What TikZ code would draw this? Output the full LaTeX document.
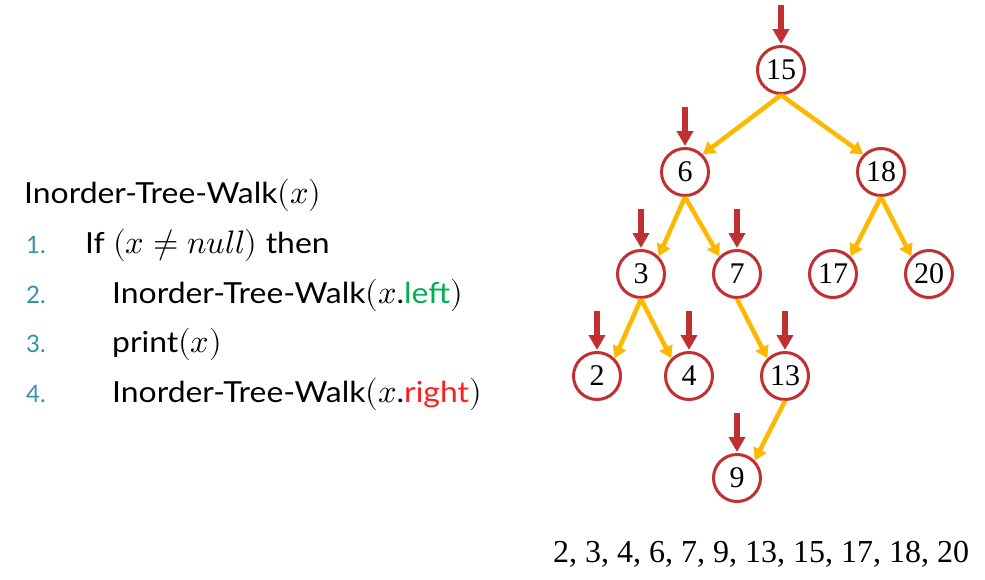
\documentclass[tikz,border=0pt]{standalone}
\usepackage{fontspec}
\usepackage{unicode-math}
\setmathfont{Latin Modern Math}[Scale=1.12]
\setmainfont{Liberation Serif}
\newfontfamily\codefont[FakeStretch=1.1]{Lato}
\newfontfamily\numfont{Lato}
\usetikzlibrary{arrows.meta}
\definecolor{nodered}{RGB}{192,48,48}
\definecolor{edgeorange}{RGB}{255,184,0}
\definecolor{numteal}{RGB}{55,145,170}
\definecolor{leftgreen}{RGB}{0,176,80}
\definecolor{rightred}{RGB}{255,30,30}
\begin{document}
\begin{tikzpicture}[x=1pt,y=-1pt,
  treenode/.style={circle,draw=nodered,line width=3pt,minimum size=47pt,inner sep=0pt,font=\fontsize{30}{32}\selectfont},
  edge/.style={draw=edgeorange,line width=4.5pt,-{Triangle[width=14pt,length=12pt]}},
  visit/.style={draw=nodered,line width=6pt,-{Triangle[width=16pt,length=15pt]}},
  code/.style={anchor=base west,inner sep=0pt,font=\codefont\fontsize{29}{32}\selectfont},
  num/.style={anchor=base west,inner sep=0pt,text=numteal,font=\numfont\fontsize{24}{26}\selectfont},
  seq/.style={anchor=base,inner sep=0pt,font=\fontsize{32}{34}\selectfont}]
\useasboundingbox (0,0) rectangle (985,579);

% pseudo code
\node[code] (title) at (24,203) {Inorder-Tree-Walk$(x)$};
\node[num] (l1) at (26,253) {1.};
\node[num] (l2) at (26,303) {2.};
\node[num] (l3) at (26,352) {3.};
\node[num] (l4) at (26,402) {4.};
\node[code] (c1) at (85,253) {If $(x\neq null)$ then};
\node[code] (c2) at (112,303) {Inorder-Tree-Walk$(x$.\textcolor{leftgreen}{left}$)$};
\node[code] (c3) at (112,352) {print$(x)$};
\node[code] (c4) at (112,402) {Inorder-Tree-Walk$(x$.\textcolor{rightred}{right}$)$};

% tree
\node[treenode] (n15) at (781,70) {15};
\node[treenode] (n6) at (685,172) {6};
\node[treenode] (n18) at (881,172) {18};
\node[treenode] (n3) at (641,274) {3};
\node[treenode] (n7) at (737,274) {7};
\node[treenode] (n17) at (833,274) {17};
\node[treenode] (n20) at (929,274) {20};
\node[treenode] (n2) at (597,376) {2};
\node[treenode] (n4) at (689,376) {4};
\node[treenode] (n13) at (785,376) {13};
\node[treenode] (n9) at (737,478) {9};

\draw[edge] (n15.south) -- (n6.45);
\draw[edge] (n15.south) -- (n18.135);
\draw[edge] (n6.south) -- (n3.45);
\draw[edge] (n6.south) -- (n7.135);
\draw[edge] (n18.south) -- (n17.45);
\draw[edge] (n18.south) -- (n20.135);
\draw[edge] (n3.south) -- (n2.45);
\draw[edge] (n3.south) -- (n4.135);
\draw[edge] (n7.south) -- (n13.135);
\draw[edge] (n13.south) -- (n9.45);

\foreach \n in {n15,n6,n3,n7,n2,n4,n13,n9}
  \draw[visit] ([yshift=40pt]\n.north) -- ([yshift=1pt]\n.north);

\node[seq] (order) at (761,562) {2, 3, 4, 6, 7, 9, 13, 15, 17, 18, 20};
\end{tikzpicture}
\end{document}
